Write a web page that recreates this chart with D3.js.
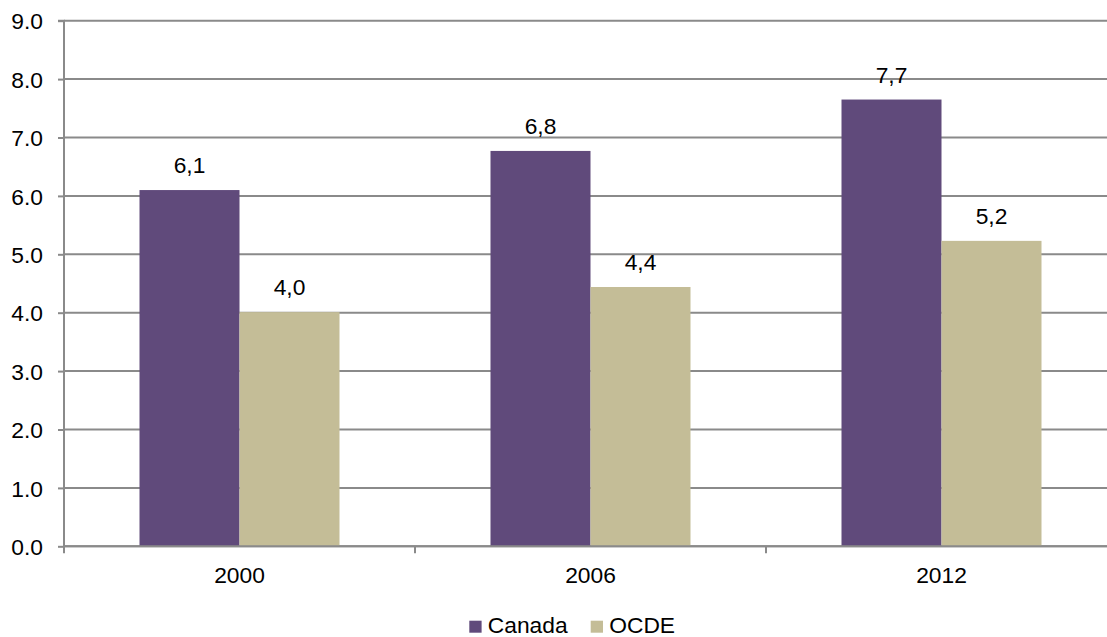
<!DOCTYPE html>
<html>
<head>
<meta charset="utf-8">
<script src="https://cdn.jsdelivr.net/npm/d3@7"></script>
<style>
  html, body { margin: 0; padding: 0; background: #fff; }
  svg { display: block; font-family: "Liberation Sans", Arial, sans-serif; }
</style>
</head>
<body>
<svg id="chart" width="1107" height="637"></svg>
<script>
const categories = ["2000", "2006", "2012"];
const seriesNames = ["Canada", "OCDE"];
const canadaValues = [6.1, 6.77, 7.65];
const ocdeValues = [4.01, 4.44, 5.23];
const canadaLabels = ["6,1", "6,8", "7,7"];
const ocdeLabels = ["4,0", "4,4", "5,2"];
const yTicks = [0, 1, 2, 3, 4, 5, 6, 7, 8, 9];
const colors = ["#604A7B", "#C4BD97"];

(function () {
const svg = d3.select("#chart");
const plotLeft = 64, plotTop = 20.7, plotBottom = 546.3;
const bandW = 351;
const plotRight = plotLeft + bandW * categories.length;

const x = d3.scaleBand().domain(categories).range([plotLeft, plotRight]).paddingInner(0).paddingOuter(0);
const y = d3.scaleLinear().domain([0, 9]).range([plotBottom, plotTop]);
const inner = d3.scaleBand().domain(seriesNames).range([0, x.bandwidth()]).paddingOuter(0.755).paddingInner(0);

const axisColor = "#8a8a8a";

// gridlines
svg.append("g").selectAll("line").data(yTicks).join("line")
  .attr("x1", plotLeft).attr("x2", plotRight)
  .attr("y1", d => y(d)).attr("y2", d => y(d))
  .attr("stroke", axisColor).attr("stroke-width", 2);

// bars
const data = categories.map((c, i) => ({ cat: c, vals: [
  { s: "Canada", v: canadaValues[i], l: canadaLabels[i], c: colors[0] },
  { s: "OCDE", v: ocdeValues[i], l: ocdeLabels[i], c: colors[1] }
]}));

const groups = svg.append("g").selectAll("g").data(data).join("g")
  .attr("transform", d => `translate(${x(d.cat)},0)`);

groups.selectAll("rect").data(d => d.vals).join("rect")
  .attr("x", d => inner(d.s))
  .attr("width", inner.bandwidth())
  .attr("y", d => y(d.v))
  .attr("height", d => y(0) - y(d.v))
  .attr("fill", d => d.c);

groups.selectAll("text").data(d => d.vals).join("text")
  .attr("x", d => inner(d.s) + inner.bandwidth() / 2)
  .attr("y", d => y(d.v) - 16.8)
  .attr("text-anchor", "middle")
  .attr("font-size", 22.8)
  .attr("fill", "#000")
  .text(d => d.l);

// y axis
const yAxis = d3.axisLeft(y).tickValues(yTicks).tickFormat(d3.format(".1f")).tickSize(6).tickPadding(15);
const gy = svg.append("g").attr("transform", `translate(${plotLeft},0)`).call(yAxis);
gy.select(".domain").attr("stroke", axisColor).attr("stroke-width", 2).attr("d", `M-6,${plotTop}H0V${plotBottom + 1}`);
gy.selectAll(".tick line").attr("stroke", axisColor).attr("stroke-width", 2);
gy.selectAll(".tick text").attr("font-size", 22.8).attr("fill", "#000")
  .attr("font-family", "Liberation Sans, Arial, sans-serif").attr("dy", "0.36em");

// x axis
const xAxis = d3.axisBottom(x).tickSize(0).tickPadding(21);
const gx = svg.append("g").attr("transform", `translate(0,${plotBottom})`).call(xAxis);
gx.select(".domain").attr("stroke", axisColor).attr("stroke-width", 2).attr("d", `M${plotLeft},0H${plotRight}`);
gx.selectAll(".tick text").attr("font-size", 22.8).attr("fill", "#000")
  .attr("font-family", "Liberation Sans, Arial, sans-serif");
const bounds = categories.map(c => x(c)).concat([plotRight]);
gx.append("g").selectAll("line").data(bounds).join("line")
  .attr("x1", d => d).attr("x2", d => d).attr("y1", 0).attr("y2", 7)
  .attr("stroke", axisColor).attr("stroke-width", 2);

// legend
const legendItems = [
  { name: seriesNames[0], color: colors[0], x: 469.3 },
  { name: seriesNames[1], color: colors[1], x: 590.7 }
];
const lg = svg.append("g").selectAll("g").data(legendItems).join("g")
  .attr("transform", d => `translate(${d.x},0)`);
lg.append("rect").attr("x", 0).attr("y", 620.7).attr("width", 12.3).attr("height", 12).attr("fill", d => d.color);
lg.append("text").attr("x", 18.5).attr("y", 632.5).attr("font-size", 22.8).attr("fill", "#000").text(d => d.name);
})();
</script>
</body>
</html>
